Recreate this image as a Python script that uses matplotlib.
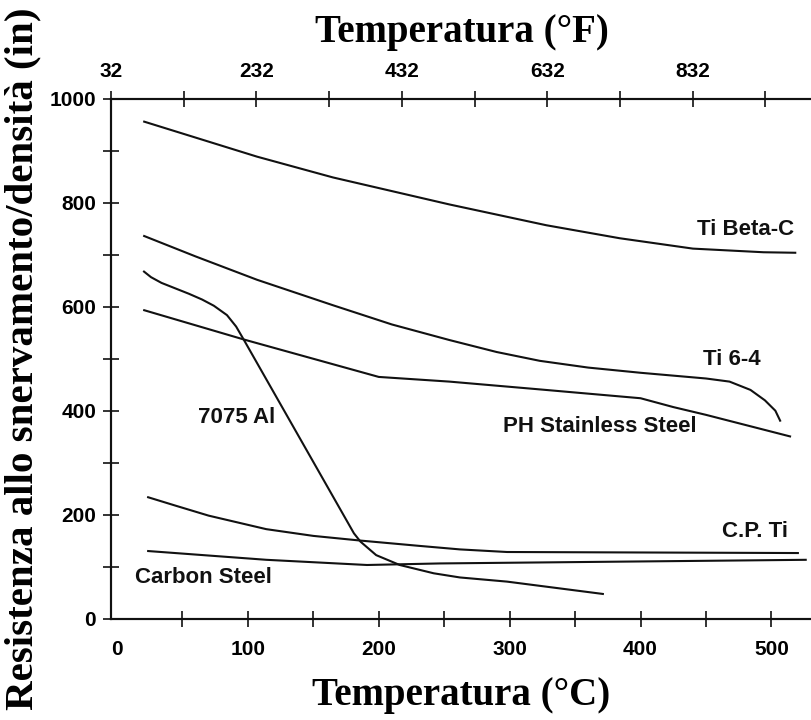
import matplotlib
matplotlib.use("Agg")
import matplotlib.pyplot as plt
from matplotlib.ticker import FixedLocator, FixedFormatter

# Specific yield strength (yield strength / density, in) versus temperature (°C)
ti_beta_c_t = [20, 107, 165, 254, 328, 384, 440, 494, 519]
ti_beta_c_v = [957, 889, 849, 797, 757, 732, 712, 705, 704]

ti_64_t = [20, 60, 107, 165, 210, 254, 290, 323, 360, 400, 450, 468, 484, 495, 503, 507]
ti_64_v = [737, 697, 652, 603, 566, 536, 513, 496, 483, 473, 462, 456, 440, 420, 400, 379]

ph_ss_t = [20, 97, 200, 254, 323, 400, 425, 450, 515]
ph_ss_v = [594, 537, 465, 456, 441, 424, 407, 392, 350]

al_7075_t = [20, 26, 34, 44, 55, 65, 74, 84, 91, 97, 181, 186, 198, 216, 242, 262, 298, 372]
al_7075_v = [669, 657, 646, 636, 625, 614, 602, 584, 562, 536, 164, 148, 122, 103, 87, 79, 71, 47]

cp_ti_t = [23, 45, 70, 114, 150, 186, 230, 262, 298, 521]
cp_ti_v = [234, 217, 198, 172, 159, 150, 140, 133, 128, 126]

carbon_t = [23, 114, 191, 247, 527]
carbon_v = [130, 113, 103, 106, 113]

curve_labels = ["Ti Beta-C", "Ti 6-4", "PH Stainless Steel", "7075 Al", "C.P. Ti", "Carbon Steel"]
label_pos = [(443, 748), (448, 498), (295, 369), (62, 386), (462, 167), (14, 78)]

x_ticks_c = [0, 100, 200, 300, 400, 500]
x_minor_c = [50, 150, 250, 350, 450]
y_ticks = [0, 200, 400, 600, 800, 1000]
y_minor = [100, 300, 500, 700, 900]
f_ticks = [32, 232, 432, 632, 832]
f_minor = [132, 332, 532, 732, 932]

x_min, x_max = -4.6, 531.0

sans = "Liberation Sans"
serif = "Liberation Serif"
ink = "#111111"

fig = plt.figure(figsize=(8.12, 7.2), dpi=100)
ax = fig.add_axes([111 / 812, 1 - 618.5 / 720, 701 / 812, 519.5 / 720])

line_kw = dict(color=ink, lw=1.5, solid_capstyle="butt", solid_joinstyle="round")
for t, v in [(ti_beta_c_t, ti_beta_c_v), (ti_64_t, ti_64_v), (ph_ss_t, ph_ss_v),
             (al_7075_t, al_7075_v), (cp_ti_t, cp_ti_v), (carbon_t, carbon_v)]:
    ax.plot(t, v, **line_kw)

for text, (lx, ly) in zip(curve_labels, label_pos):
    ax.text(lx, ly, text, family=sans, weight="bold", fontsize=16,
            ha="left", va="center", color=ink)

ax.set_xlim(x_min, x_max)
ax.set_ylim(0, 1000)

# Fahrenheit scale along the top edge
ax2 = ax.twiny()
ax2.set_xlim(32, 32 + (x_max - x_min) * 1.8)

tick_kw = dict(direction="inout", length=11.5, width=1.2, color=ink)
ax.xaxis.set_major_locator(FixedLocator(x_ticks_c))
ax.xaxis.set_minor_locator(FixedLocator(x_minor_c))
ax.yaxis.set_major_locator(FixedLocator(y_ticks))
ax.yaxis.set_minor_locator(FixedLocator(y_minor))
ax.tick_params(axis="x", which="both", pad=10, **tick_kw)
ax.tick_params(axis="y", which="both", pad=5, **tick_kw)

ax2.xaxis.set_major_locator(FixedLocator(f_ticks))
ax2.xaxis.set_major_formatter(FixedFormatter([str(f) for f in f_ticks]))
ax2.xaxis.set_minor_locator(FixedLocator(f_minor))
ax2.tick_params(axis="x", which="both", pad=7, **tick_kw)

for lab in ax.get_xticklabels() + ax.get_yticklabels() + ax2.get_xticklabels():
    lab.set_family(sans)
    lab.set_weight("bold")
    lab.set_fontsize(15)

for a in (ax, ax2):
    a.spines["right"].set_visible(False)
    for s in ("left", "bottom", "top"):
        a.spines[s].set_linewidth(1.5)
        a.spines[s].set_color(ink)

# the y axis sits just left of 0 °C, so the 0 °C tick mark is left off
ax.xaxis.get_major_ticks()[0].tick1line.set_visible(False)

title_kw = dict(family=serif, weight="bold", fontsize=28)
ax.set_xlabel("Temperatura (°C)", labelpad=13, **title_kw)
ax2.set_xlabel("Temperatura (°F)", labelpad=14.5, **title_kw)
ax.set_ylabel("Resistenza allo snervamento/densità (in)", labelpad=6,
              family=serif, weight="bold", fontsize=29.5)

fig.savefig("out.png", dpi=100)
